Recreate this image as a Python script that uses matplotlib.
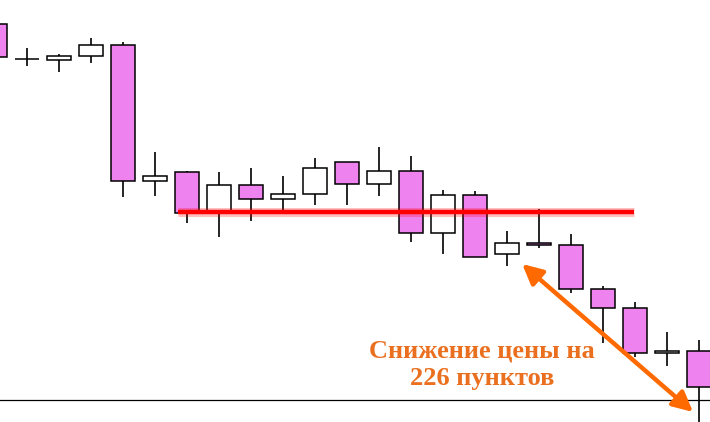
import matplotlib.pyplot as plt
from matplotlib.patches import Rectangle

# OHLC по свечам (пункты), свеча 0 обрезана слева
opens  = [1476, 1441, 1440, 1444, 1455, 1319, 1328, 1289, 1315, 1301, 1306, 1338,
          1316, 1329, 1267, 1305, 1246, 1257, 1255, 1211, 1192, 1147, 1149]
highs  = [1480, 1452, 1446, 1462, 1458, 1348, 1329, 1328, 1332, 1324, 1342, 1338,
          1353, 1344, 1310, 1309, 1269, 1291, 1266, 1214, 1198, 1168, 1160]
lows   = [1440, 1434, 1428, 1437, 1303, 1304, 1277, 1263, 1279, 1289, 1295, 1295,
          1304, 1258, 1246, 1243, 1234, 1252, 1207, 1157, 1143, 1134, 1060]
closes = [1443, 1441, 1444, 1455, 1319, 1324, 1287, 1315, 1301, 1306, 1332, 1316,
          1329, 1267, 1305, 1243, 1257, 1255, 1211, 1192, 1147, 1149, 1113]

support_level = 1288
support_from, support_to = 5.72, 19.97
base_level = 1100
drop_start = (16.47, 1236)
drop_end = (21.81, 1088)
label_lines = ["Снижение цены на", "226 пунктов"]

BEAR = "#EE82EE"
BULL = "#FFFFFF"
ORANGE = "#FF6A00"
TEXT_ORANGE = "#EA7020"

fig = plt.figure(figsize=(7.1, 4.22), dpi=100)
ax = fig.add_axes([0, 0, 1, 1])
ax.set_xlim(0.156, 22.34)
ax.set_ylim(1078, 1500)
ax.axis("off")

w = 0.75
for i, (o, h, l, c) in enumerate(zip(opens, highs, lows, closes)):
    x = i
    ax.vlines(x, l, h, color="black", lw=1.2, zorder=2)
    bottom = min(o, c)
    height = abs(c - o)
    color = BEAR if c < o else BULL
    ax.add_patch(Rectangle((x - w / 2, bottom), w, height, facecolor=color,
                           edgecolor="black", lw=1.1, zorder=3))

ax.axhline(base_level, color="black", lw=0.9, zorder=1)

# линия уровня с лёгким свечением
ax.hlines(support_level, support_from, support_to, color="#ff0000", lw=6.5,
          alpha=0.25, zorder=4)
ax.hlines(support_level, support_from, support_to, color="#ff0000", lw=3.2,
          zorder=5)

ax.annotate("", xy=drop_end, xytext=drop_start,
            arrowprops=dict(arrowstyle="<|-|>", color=ORANGE, lw=3.2,
                            mutation_scale=30, shrinkA=0, shrinkB=0),
            zorder=6)

for k, line in enumerate(label_lines):
    ax.text(15.22, 1142 - 27 * k, line, ha="center", va="baseline",
            fontsize=19, fontweight="bold", family="Liberation Serif",
            color=TEXT_ORANGE, zorder=7)

fig.savefig("out.png", dpi=100)
